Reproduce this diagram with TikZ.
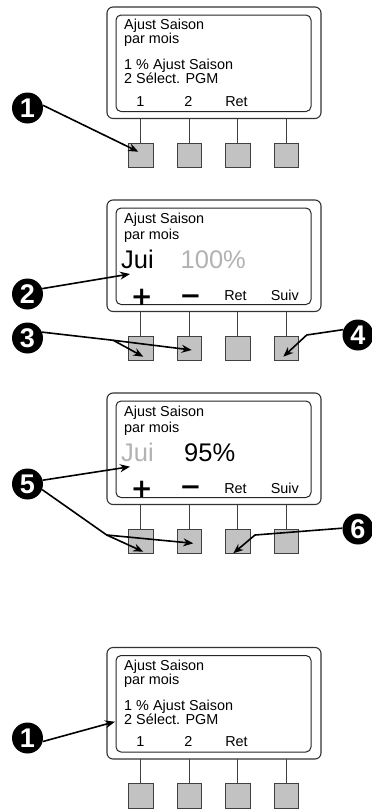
\documentclass[tikz,border=0pt]{standalone}
\usepackage{fontspec}
\setmainfont{Liberation Sans}
\newfontfamily\symfont{DejaVu Sans}
\usetikzlibrary{arrows.meta}
\newcommand{\drawpanel}[2]{%
  \begin{scope}[shift={(0,#2)}]
    \draw[outerbox] (107,0) rectangle (321,111.5);
    \draw[screen] (116,8) rectangle (311,104.5);
    \foreach \x [count=\i] in {140.8,189.2,237.8,286.5} {
      \node[btn] (#1b\i) at (\x,148.5) {};
      \draw[stem] (\x,111.5) -- (#1b\i.north);
    }
  \end{scope}}
\begin{document}
\begin{tikzpicture}[x=1pt,y=-1pt,
  outerbox/.style={draw=black!80, line width=1.1pt, rounded corners=6pt},
  screen/.style={draw=black!85, line width=1pt, rounded corners=5pt},
  btn/.style={draw=black!75, line width=0.9pt, fill=black!24, minimum size=24.5pt, inner sep=0pt},
  stem/.style={draw=black!75, line width=0.9pt},
  lcd/.style={font=\fontsize{14.4}{14.4}\selectfont, anchor=base west, inner sep=0pt},
  soft/.style={font=\fontsize{14.4}{14.4}\selectfont, anchor=base, inner sep=0pt},
  big/.style={font=\fontsize{25.5}{25.5}\selectfont, anchor=base west, inner sep=0pt},
  pm/.style={font=\symfont\bfseries\fontsize{26}{26}\selectfont, anchor=base, inner sep=0pt},
  dim/.style={text=black!30},
  callout/.style={circle, fill=black, text=white, minimum size=31pt, inner sep=0pt,
    font=\bfseries\fontsize{27}{27}\selectfont},
  arr/.style={line width=1.6pt, line join=round, -{Stealth[length=10pt,width=8pt]}},
]
\useasboundingbox (0,0) rectangle (372,809);

% ---- frames and buttons
\drawpanel{pa}{7}
\drawpanel{pb}{200}
\drawpanel{pc}{393}
\drawpanel{pd}{647.5}

% ---- panel 1 text
\begin{scope}[shift={(0,7)}]
  \node[lcd] (a1) at (124,22.6) {Ajust Saison};
  \node[lcd] (a2) at (124,36.4) {par mois};
  \node[lcd] (a3) at (124,62.3) {1 \% Ajust Saison};
  \node[lcd] (a4) at (124,76) {2 Sélect. PGM};
  \node[soft] (a5) at (140.3,99) {1};
  \node[soft] (a6) at (188.5,99) {2};
  \node[soft] (a7) at (236.5,99) {Ret};
\end{scope}

% ---- panel 2 text
\begin{scope}[shift={(0,200)}]
  \node[lcd] (b1) at (124,23) {Ajust Saison};
  \node[lcd] (b2) at (124,39) {par mois};
  \node[big] (b3) at (121,68.3) {Jui};
  \node[big,dim] (b4) at (180.5,68.3) {100\%};
  \node[pm] (b5) at (141.7,105.5) {+};
  \node[pm] (b6) at (190.5,104) {−};
  \node[soft] (b7) at (235.5,100.5) {Ret};
  \node[soft] (b8) at (284.8,100.5) {Suiv};
\end{scope}

% ---- panel 3 text
\begin{scope}[shift={(0,393)}]
  \node[lcd] (c1) at (124,23.5) {Ajust Saison};
  \node[lcd] (c2) at (124,39.5) {par mois};
  \node[big,dim] (c3) at (121,68) {Jui};
  \node[big] (c4) at (184,68) {95\%};
  \node[pm] (c5) at (141.7,104.5) {+};
  \node[pm] (c6) at (190.5,102) {−};
  \node[soft] (c7) at (235.5,100.5) {Ret};
  \node[soft] (c8) at (284.8,100.5) {Suiv};
\end{scope}

% ---- panel 4 text
\begin{scope}[shift={(0,647.5)}]
  \node[lcd] (d1) at (124,22.8) {Ajust Saison};
  \node[lcd] (d2) at (124,36.6) {par mois};
  \node[lcd] (d3) at (124,63) {1 \% Ajust Saison};
  \node[lcd] (d4) at (124,76.5) {2 Sélect. PGM};
  \node[soft] (d5) at (140.3,99.2) {1};
  \node[soft] (d6) at (188.5,99.2) {2};
  \node[soft] (d7) at (236.5,99.2) {Ret};
\end{scope}

% ---- callouts
\node[callout] (n1a) at (27.5,108) {1};
\node[callout] (n2) at (27.5,294) {2};
\node[callout] (n3) at (27.5,338) {3};
\node[callout] (n4) at (358,335) {4};
\node[callout] (n5) at (27.5,484) {5};
\node[callout] (n6) at (358,529) {6};
\node[callout] (n1b) at (27.5,738) {1};

% ---- arrow targets
\coordinate (t1a) at (138.3,151.7);
\coordinate (t2) at (130,274);
\coordinate (f3) at (113.3,340.3);
\coordinate (t3a) at (143.3,356.7);
\coordinate (t3b) at (191.7,350);
\coordinate (k4) at (306.7,335);
\coordinate (t4) at (283.3,356.7);
\coordinate (t5u) at (130,466.7);
\coordinate (f5) at (106.7,535);
\coordinate (t5a) at (143.3,551.7);
\coordinate (t5b) at (193.3,543.3);
\coordinate (k6) at (255,535);
\coordinate (t6) at (233.3,553.3);
\coordinate (t1b) at (115,721.7);

% ---- arrows
\draw[arr] (n1a.10) -- (t1a);
\draw[arr] (n2.20) -- (t2);
\draw[arr] (n3.22) -- (f3) -- (t3b);
\draw[arr] (f3) -- (t3a);
\draw[arr] (n4.160) -- (k4) -- (t4);
\draw[arr] (n5.14) -- (t5u);
\draw[arr] (n5.-21) -- (f5) -- (t5a);
\draw[arr] (f5) -- (t5b);
\draw[arr] (n6.177) -- (k6) -- (t6);
\draw[arr] (n1b.-13) -- (t1b);
\end{tikzpicture}
\end{document}
